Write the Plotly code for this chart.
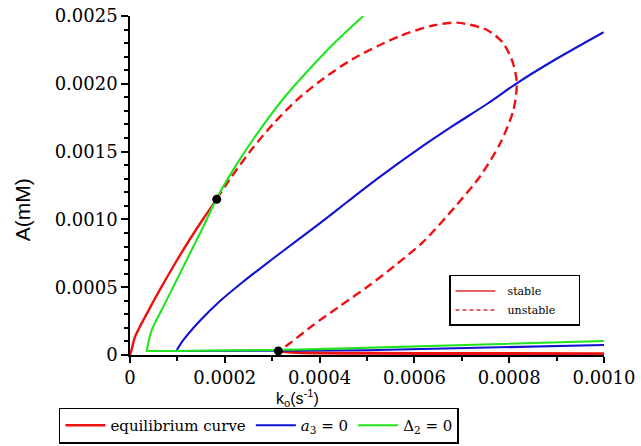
import plotly.graph_objects as go

# ---------------- data ----------------
# equilibrium curve: stable upper part (origin -> first Hopf point)
red_stable_up_x = [0.0, 0.0000032, 0.0000105, 0.0000392, 0.0000679, 0.0000966, 0.0001253, 0.0001542, 0.000183]
red_stable_up_y = [0.0, 0.0000369, 0.000133, 0.000329, 0.000511, 0.000684, 0.000848, 0.001003, 0.001150]
# unstable loop between the two Hopf points
red_unstable_x = [0.000183, 0.000211, 0.000259, 0.000302, 0.000352, 0.000407, 0.000470, 0.000523, 0.000570,
                  0.000639, 0.000690, 0.000753, 0.000787, 0.000808, 0.000816, 0.000809, 0.000781, 0.000738,
                  0.000689, 0.000619, 0.000563, 0.000506, 0.000443, 0.000384, 0.000338, 0.000314]
red_unstable_y = [0.001150, 0.001298, 0.001527, 0.001704, 0.001881, 0.002036, 0.002183, 0.002279, 0.002353,
                  0.002430, 0.002451, 0.002397, 0.002301, 0.002153, 0.002004, 0.001807, 0.001561, 0.001315,
                  0.001106, 0.000836, 0.000671, 0.000516, 0.000361, 0.000214, 0.0000885, 0.0000295]
# stable lower branch
red_stable_low_x = [0.000314, 0.00035, 0.0005, 0.0007, 0.001]
red_stable_low_y = [0.0000295, 0.000018, 0.000013, 0.000011, 0.000010]

# a3 = 0 : lower branch and upper branch
blue_low_x = [0.001, 0.0008, 0.0006, 0.0005, 0.0004, 0.0003, 0.0002, 0.000102, 0.0000985, 0.0000998]
blue_low_y = [0.000074, 0.000057, 0.000040, 0.000035, 0.000033, 0.000031, 0.000030, 0.000030, 0.000036, 0.000042]
blue_up_x = [0.0000998, 0.000112, 0.000148, 0.000190, 0.000238, 0.000295, 0.000352, 0.000401, 0.000458,
             0.000527, 0.000612, 0.000681, 0.000753, 0.000816, 0.000892, 0.000999]
blue_up_y = [0.000042, 0.000107, 0.000254, 0.000398, 0.000538, 0.000693, 0.000844, 0.000973, 0.001128,
             0.001313, 0.001527, 0.001689, 0.001851, 0.002004, 0.002168, 0.002380]

# Delta2 = 0 : lower branch and upper branch
green_low_x = [0.001, 0.0008, 0.0006, 0.0005, 0.0004, 0.0003, 0.0002, 0.0001, 0.0000352, 0.0000352]
green_low_y = [0.000103, 0.000083, 0.000062, 0.000050, 0.000043, 0.000037, 0.000032, 0.000030, 0.000030, 0.0000317]
green_up_x = [0.0000352, 0.0000458, 0.0000703, 0.0000985, 0.0001266, 0.0001546, 0.000183, 0.000225, 0.000274,
              0.000326, 0.000373, 0.000430, 0.000492]
green_up_y = [0.0000317, 0.000184, 0.000356, 0.000553, 0.000750, 0.000946, 0.001156, 0.001406, 0.001661,
              0.001901, 0.002087, 0.002297, 0.002500]

# Hopf points
hopf_x = [0.000183, 0.000313]
hopf_y = [0.001148, 0.000030]

x_tickvals = [0, 0.0002, 0.0004, 0.0006, 0.0008, 0.0010]
x_ticktext = ["0", "0.0002", "0.0004", "0.0006", "0.0008", "0.0010"]
y_tickvals = [0, 0.0005, 0.0010, 0.0015, 0.0020, 0.0025]
y_ticktext = ["0", "0.0005", "0.0010", "0.0015", "0.0020", "0.0025"]

RED = "#ee1111"
BLUE = "#1212d2"
GREEN = "#22e41e"
SERIF = "DejaVu Serif"
SPL = dict(shape="spline", smoothing=0.8)

fig = go.Figure()

fig.add_trace(go.Scatter(x=red_stable_up_x, y=red_stable_up_y, mode="lines",
                         line=dict(color=RED, width=2.4, **SPL), name="equilibrium curve",
                         legendgroup="eq", legend="legend"))
fig.add_trace(go.Scatter(x=red_unstable_x, y=red_unstable_y, mode="lines",
                         line=dict(color=RED, width=2.4, dash="9px,5px", **SPL), showlegend=False,
                         legendgroup="eq"))
fig.add_trace(go.Scatter(x=red_stable_low_x, y=red_stable_low_y, mode="lines",
                         line=dict(color=RED, width=3, **SPL), showlegend=False, legendgroup="eq"))
fig.add_trace(go.Scatter(x=blue_up_x, y=blue_up_y, mode="lines",
                         line=dict(color=BLUE, width=2.1, **SPL), name="<i>a</i><sub>3</sub> = 0",
                         legendgroup="a3", legend="legend"))
fig.add_trace(go.Scatter(x=blue_low_x, y=blue_low_y, mode="lines",
                         line=dict(color=BLUE, width=2.1), showlegend=False, legendgroup="a3"))
fig.add_trace(go.Scatter(x=green_up_x, y=green_up_y, mode="lines",
                         line=dict(color=GREEN, width=2.1, **SPL), name="Δ<sub>2</sub> = 0",
                         legendgroup="d2", legend="legend"))
fig.add_trace(go.Scatter(x=green_low_x, y=green_low_y, mode="lines",
                         line=dict(color=GREEN, width=2.1), showlegend=False, legendgroup="d2"))
fig.add_trace(go.Scatter(x=hopf_x, y=hopf_y, mode="markers",
                         marker=dict(color="black", size=9), showlegend=False))

# inner legend entries
fig.add_trace(go.Scatter(x=[None], y=[None], mode="lines", line=dict(color="#e03030", width=1.5),
                         name="&nbsp;&nbsp;stable", legend="legend2"))
fig.add_trace(go.Scatter(x=[None], y=[None], mode="lines", line=dict(color="#e03030", width=1.5, dash="4px,3px"),
                         name="&nbsp;&nbsp;unstable&nbsp;&nbsp;&nbsp;&nbsp;&nbsp;", legend="legend2"))

fig.update_layout(
    width=641, height=446,
    margin=dict(l=130, r=37, t=16, b=91, autoexpand=False),
    paper_bgcolor="white", plot_bgcolor="white",
    font=dict(family=SERIF, size=18, color="black"),
    showlegend=True,
    legend=dict(orientation="h", x=-0.15, y=-0.155, xanchor="left", yanchor="top",
                bordercolor="black", borderwidth=1.5, font=dict(family=SERIF, size=15),
                itemwidth=40, traceorder="normal", bgcolor="white"),
    legend2=dict(orientation="v", x=0.673, y=0.236, xanchor="left", yanchor="top",
                 bordercolor="black", borderwidth=1.5, font=dict(family=SERIF, size=11),
                 itemwidth=40, bgcolor="white", tracegroupgap=2),
)

fig.update_xaxes(range=[0, 0.001], tickvals=x_tickvals, ticktext=x_ticktext,
                 showline=True, linecolor="black", linewidth=1.5, mirror=False,
                 ticks="outside", ticklen=6, tickwidth=1.5, tickcolor="black",
                 showgrid=False, zeroline=False, tickfont=dict(family=SERIF, size=18),
                 minor=dict(dtick=0.0001, tick0=0, ticks="outside", ticklen=4, tickcolor="black", showgrid=False))
fig.update_yaxes(range=[0, 0.0025], tickvals=y_tickvals, ticktext=y_ticktext,
                 showline=True, linecolor="black", linewidth=1.5, mirror=False,
                 ticks="outside", ticklen=7, tickwidth=1.5, tickcolor="black",
                 showgrid=False, zeroline=False, tickfont=dict(family=SERIF, size=18),
                 minor=dict(dtick=0.0001, tick0=0, ticks="outside", ticklen=4, tickcolor="black", showgrid=False))

fig.add_annotation(text="k<sub>o</sub>(s<sup>-1</sup>)", xref="paper", yref="paper",
                   x=0.354, y=-0.128, xanchor="center", yanchor="middle", showarrow=False,
                   font=dict(family="Liberation Sans", size=16))
fig.add_annotation(text="A(mM)", xref="paper", yref="paper", textangle=-90,
                   x=-0.225, y=0.428, xanchor="center", yanchor="middle", showarrow=False,
                   font=dict(family="Liberation Sans", size=21))

fig.write_html("out.html")
